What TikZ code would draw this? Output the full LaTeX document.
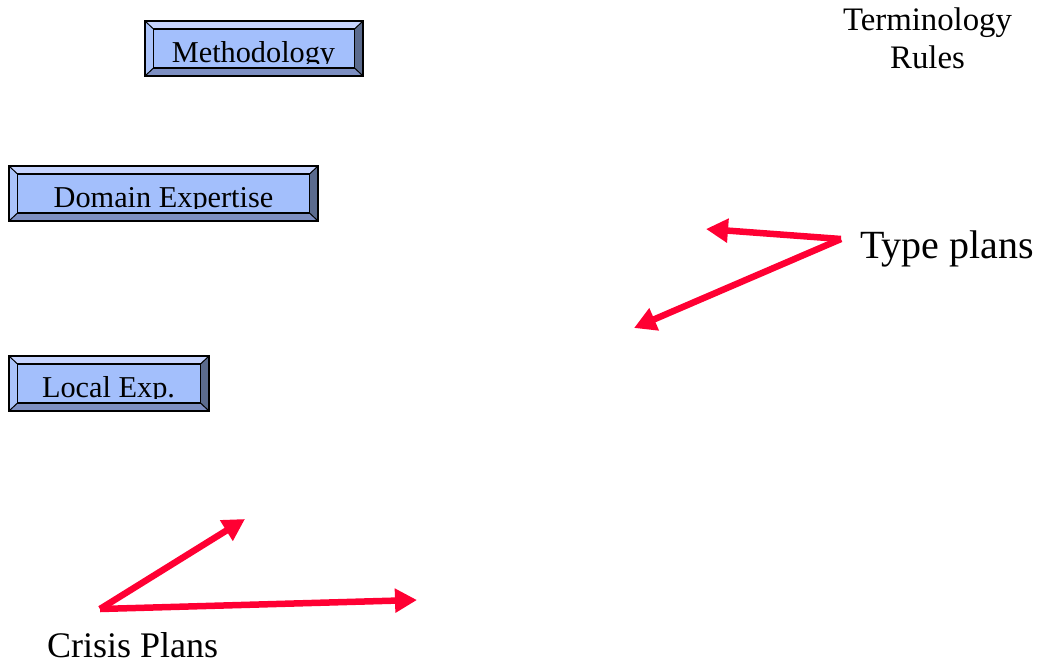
\documentclass[tikz,border=0pt]{standalone}
\usepackage{fontspec}
\setmainfont{Liberation Serif}
\usetikzlibrary{arrows.meta}

\definecolor{faceblue}{HTML}{A3BFFC}
\definecolor{bevtop}{HTML}{C6D4FF}
\definecolor{bevleft}{HTML}{ABC3FA}
\definecolor{bevright}{HTML}{5B6B8E}
\definecolor{bevbottom}{HTML}{7D8FC2}
\definecolor{arrowred}{HTML}{FF0033}

\tikzset{
  bevelbox/.style={
    draw=black, line width=1.6pt, fill=faceblue, inner sep=0pt,
    minimum height=55pt,
    path picture={
      \coordinate (pnw) at (path picture bounding box.north west);
      \coordinate (pne) at (path picture bounding box.north east);
      \coordinate (psw) at (path picture bounding box.south west);
      \coordinate (pse) at (path picture bounding box.south east);
      \coordinate (qnw) at ([shift={(8.5pt,-8pt)}]pnw);
      \coordinate (qne) at ([shift={(-8.5pt,-8pt)}]pne);
      \coordinate (qsw) at ([shift={(8.5pt,8pt)}]psw);
      \coordinate (qse) at ([shift={(-8.5pt,8pt)}]pse);
      \fill[bevtop] (pnw) -- (pne) -- (qne) -- (qnw) -- cycle;
      \fill[bevleft] (pnw) -- (qnw) -- (qsw) -- (psw) -- cycle;
      \fill[bevright] (pne) -- (pse) -- (qse) -- (qne) -- cycle;
      \fill[bevbottom] (psw) -- (qsw) -- (qse) -- (pse) -- cycle;
      \draw[line width=1.4pt] (qnw) rectangle (qse);
      \draw[line width=1pt] (pnw) -- (qnw) (pne) -- (qne) (psw) -- (qsw) (pse) -- (qse);
    }
  },
  boxtext/.style={anchor=base, inner sep=0pt, font=\fontsize{30.3}{35}\selectfont},
  plaintext/.style={inner sep=0pt},
  redarrow/.style={draw=arrowred, line width=6.5pt, line cap=butt,
    -{Triangle[length=22pt,width=23pt]}},
}

\begin{document}
\begin{tikzpicture}[x=1pt,y=-1pt]
\useasboundingbox (0,0) rectangle (1037,665);

% bevelled buttons
\node[bevelbox, minimum width=218pt] (meth) at (254,48.5) {};
\node[bevelbox, minimum width=309pt] (dom) at (163.5,193.5) {};
\node[bevelbox, minimum width=200pt] (loc) at (109,383.5) {};

% button captions, cut off just below the baseline
\begin{scope}
  \clip (150,25) rectangle (358,63.5);
  \node[boxtext] (methT) at (253.5,62) {Methodology};
\end{scope}
\begin{scope}
  \clip (15,170) rectangle (313,208.5);
  \node[boxtext] (domT) at (163.5,207) {Domain Expertise};
\end{scope}
\begin{scope}
  \clip (15,360) rectangle (204,398.5);
  \node[boxtext] (locT) at (108.5,397) {Local Exp.};
\end{scope}

% free labels
\node[plaintext, anchor=base, align=center, font=\fontsize{32.8}{37.5}\selectfont]
  (term) at (927.5,68) {Terminology\\Rules};
\node[plaintext, anchor=base west, font=\fontsize{40}{46}\selectfont]
  (type) at (860,258) {Type plans};
\node[plaintext, anchor=base west, font=\fontsize{36}{42}\selectfont]
  (crisis) at (47,657) {Crisis Plans};

% arrow end points
\coordinate (typeA) at (841,239);
\coordinate (typeT1) at (706,229);
\coordinate (typeT2) at (634,328);
\coordinate (crisA) at (100,609);
\coordinate (crisT1) at (245,519);
\coordinate (crisT2) at (417,600);

\draw[redarrow] (typeA) -- (typeT1);
\draw[redarrow] (typeA) -- (typeT2);
\draw[redarrow] (crisA) -- (crisT1);
\draw[redarrow] (crisA) -- (crisT2);
\end{tikzpicture}
\end{document}
